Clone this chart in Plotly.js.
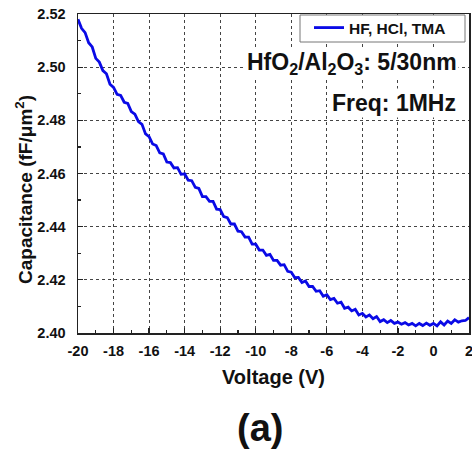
<!DOCTYPE html>
<html>
<head>
<meta charset="utf-8">
<script src="https://cdn.plot.ly/plotly-3.0.1.min.js"></script>
<style>html,body{margin:0;padding:0;background:#fff;}#chart{width:472px;height:451px;}</style>
</head>
<body>
<div id="chart"></div>
<script>
const voltage = [-20.0,-19.8,-19.6,-19.4,-19.2,-19.0,-18.8,-18.6,-18.4,-18.2,-18.0,-17.8,-17.6,-17.4,-17.2,-17.0,-16.8,-16.6,-16.4,-16.2,-16.0,-15.8,-15.6,-15.4,-15.2,-15.0,-14.8,-14.6,-14.4,-14.2,-14.0,-13.8,-13.6,-13.4,-13.2,-13.0,-12.8,-12.6,-12.4,-12.2,-12.0,-11.8,-11.6,-11.4,-11.2,-11.0,-10.8,-10.6,-10.4,-10.2,-10.0,-9.8,-9.6,-9.4,-9.2,-9.0,-8.8,-8.6,-8.4,-8.2,-8.0,-7.8,-7.6,-7.4,-7.2,-7.0,-6.8,-6.6,-6.4,-6.2,-6.0,-5.8,-5.6,-5.4,-5.2,-5.0,-4.8,-4.6,-4.4,-4.2,-4.0,-3.8,-3.6,-3.4,-3.2,-3.0,-2.8,-2.6,-2.4,-2.2,-2.0,-1.8,-1.6,-1.4,-1.2,-1.0,-0.8,-0.6,-0.4,-0.2,0.0,0.2,0.4,0.6,0.8,1.0,1.2,1.4,1.6,1.8,2.0];
const capacitance = [2.5180,2.5146,2.5130,2.5092,2.5076,2.5033,2.5019,2.4987,2.4975,2.4936,2.4924,2.4898,2.4894,2.4868,2.4864,2.4833,2.4823,2.4795,2.4785,2.4749,2.4739,2.4711,2.4705,2.4678,2.4674,2.4643,2.4641,2.4621,2.4622,2.4597,2.4599,2.4575,2.4573,2.4548,2.4544,2.4513,2.4513,2.4495,2.4495,2.4466,2.4464,2.4438,2.4434,2.4410,2.4410,2.4383,2.4381,2.4361,2.4361,2.4334,2.4334,2.4312,2.4312,2.4292,2.4296,2.4273,2.4273,2.4255,2.4257,2.4232,2.4229,2.4208,2.4209,2.4190,2.4196,2.4175,2.4175,2.4157,2.4159,2.4138,2.4144,2.4126,2.4130,2.4112,2.4116,2.4093,2.4097,2.4083,2.4089,2.4068,2.4074,2.4060,2.4068,2.4054,2.4062,2.4043,2.4050,2.4039,2.4047,2.4036,2.4041,2.4033,2.4039,2.4030,2.4036,2.4027,2.4036,2.4028,2.4037,2.4029,2.4036,2.4027,2.4042,2.4030,2.4045,2.4036,2.4050,2.4041,2.4046,2.4047,2.4058];
const seriesName = "HF, HCl, TMA";
const xTicks = [-20,-18,-16,-14,-12,-10,-8,-6,-4,-2,0,2];
const yTicks = [2.40,2.42,2.44,2.46,2.48,2.50,2.52];
const xTitle = "Voltage (V)";
const yTitle = "Capacitance (fF/μm<sup>2</sup>)";
const noteFilm = "HfO<sub>2</sub>/Al<sub>2</sub>O<sub>3</sub>: 5/30nm";
const noteFreq = "Freq: 1MHz";
const panelLabel = "(a)";

const F = "Liberation Sans, Arial, sans-serif";
// plot area in px: left 78, right 469, top 14, bottom 333
const PL = 78, PW = 391, PT = 14, PH = 319;
const px = v => (v - PL) / PW;
const py = v => 1 - (v - PT) / PH;

const trace = {
  x: voltage, y: capacitance, type: 'scatter', mode: 'lines', name: seriesName,
  line: {color: '#0a0ae6', width: 2.8}
};
const axisCommon = {
  showline: true, linecolor: '#222', linewidth: 1.5, mirror: true,
  ticks: 'inside', ticklen: 5, tickwidth: 1.2, tickcolor: '#222',
  showgrid: true, gridcolor: '#444', griddash: 'dot', gridwidth: 1,
  zeroline: false, ticklabeloverflow: 'allow',
  tickfont: {family: F, size: 14.5, color: '#111', weight: 'bold'}
};
const layout = {
  width: 472, height: 451,
  margin: {l: 78, r: 3, t: 14, b: 118},
  paper_bgcolor: '#fff', plot_bgcolor: '#fff',
  showlegend: true,
  xaxis: Object.assign({}, axisCommon, {
    range: [-20, 2], tickmode: 'array', tickvals: xTicks,
    ticktext: xTicks.map(String),
    minor: {dtick: 1, ticks: 'inside', ticklen: 3, tickcolor: '#222', showgrid: false},
    ticklabelstandoff: 4,
    title: {text: xTitle, font: {family: F, size: 20, color: '#111', weight: 'bold'}, standoff: 12}
  }),
  yaxis: Object.assign({}, axisCommon, {
    range: [2.40, 2.52], tickmode: 'array', tickvals: yTicks,
    ticktext: yTicks.map(v => v.toFixed(2)),
    minor: {dtick: 0.01, ticks: 'inside', ticklen: 3, tickcolor: '#222', showgrid: false},
    ticklabelstandoff: 8
  }),
  legend: {
    x: px(309), xanchor: 'left', y: py(28), yanchor: 'middle',
    bgcolor: 'rgba(0,0,0,0)', borderwidth: 0,
    font: {family: F, size: 15.5, color: '#111', weight: 'bold'}
  },
  shapes: [
    {type: 'rect', xref: 'paper', yref: 'paper', x0: px(300), x1: px(465), y0: py(42), y1: py(15),
     fillcolor: '#fff', line: {color: '#777', width: 1}, layer: 'above'}
  ],
  annotations: [
    {xref: 'paper', yref: 'paper', x: px(24), y: py(190), xanchor: 'center', yanchor: 'middle',
     text: yTitle, textangle: -90, showarrow: false,
     font: {family: F, size: 19, color: '#111', weight: 'bold'}},
    {xref: 'paper', yref: 'paper', x: px(459), y: py(63), xanchor: 'right', yanchor: 'middle',
     text: noteFilm, showarrow: false, bgcolor: '#fff',
     font: {family: F, size: 23, color: '#111', weight: 'bold'}},
    {xref: 'paper', yref: 'paper', x: px(458), y: py(103), xanchor: 'right', yanchor: 'middle',
     text: noteFreq, showarrow: false, bgcolor: '#fff',
     font: {family: F, size: 23, color: '#111', weight: 'bold'}},
    {xref: 'paper', yref: 'paper', x: px(260), y: py(428), xanchor: 'center', yanchor: 'middle',
     text: panelLabel, showarrow: false,
     font: {family: F, size: 38, color: '#111', weight: 'bold'}}
  ]
};
Plotly.newPlot('chart', [trace], layout, {displayModeBar: false, staticPlot: true});
</script>
</body>
</html>
